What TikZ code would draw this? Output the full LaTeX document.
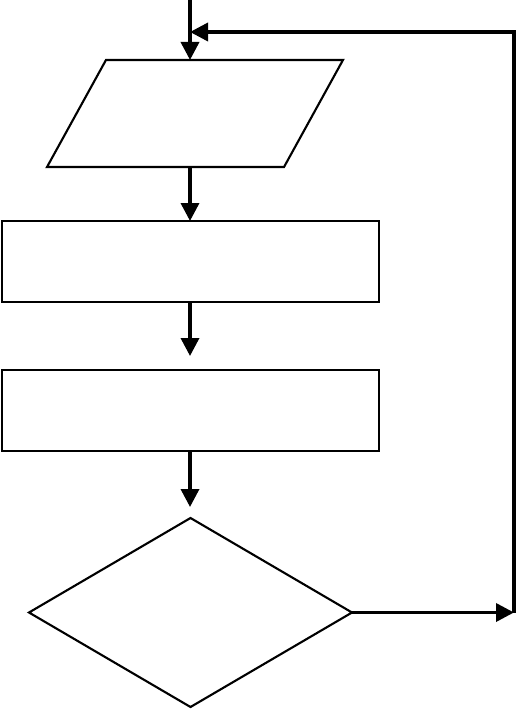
\documentclass[tikz,border=0pt]{standalone}
\usepackage{tikz}
\usetikzlibrary{shapes.geometric, positioning, arrows.meta, calc}

\begin{document}
\begin{tikzpicture}[x=0.02cm, y=-0.02cm,
  box/.style={draw, line width=1.2pt, inner sep=0pt, outer sep=0pt},
  flow/.style={line width=2pt, -{Triangle[length=0.36cm, width=0.36cm]}}]

  % --- Margini ---
  \useasboundingbox (0,0) rectangle (520,712);

  % --- Blocchi ---
  \node[box, rectangle, xslant=0.551, transform shape,
    minimum width=237*0.02cm, minimum height=107*0.02cm]
    (dati) at (195,113.5) {};
  \node[box, rectangle, minimum width=377*0.02cm, minimum height=81*0.02cm]
    (passo1) at (190.5,261.5) {};
  \node[box, rectangle, minimum width=377*0.02cm, minimum height=81*0.02cm]
    (passo2) at (190.5,410.5) {};
  \node[box, diamond, minimum width=323*0.02cm, minimum height=189*0.02cm]
    (test) at (190.5,612.5) {};

  % --- Punti liberi ---
  \coordinate (inizio) at (190,0);
  \coordinate (ritorno) at (514,612.5);
  \coordinate (angolo) at (514,32);

  % --- Frecce ---
  \draw[flow] (inizio) -- (inizio |- dati.north);
  \draw[flow] (inizio |- dati.south) -- (inizio |- passo1.north);
  \draw[flow, shorten >=14*0.02cm] (inizio |- passo1.south) -- (inizio |- passo2.north);
  \draw[flow, shorten >=11*0.02cm] (inizio |- passo2.south) -- (inizio |- test.north);

  % --- Ciclo di ritorno ---
  \draw[flow] (test.east) -- (ritorno);
  \draw[flow] (ritorno) -- (angolo) -- (angolo -| inizio);

\end{tikzpicture}
\end{document}
